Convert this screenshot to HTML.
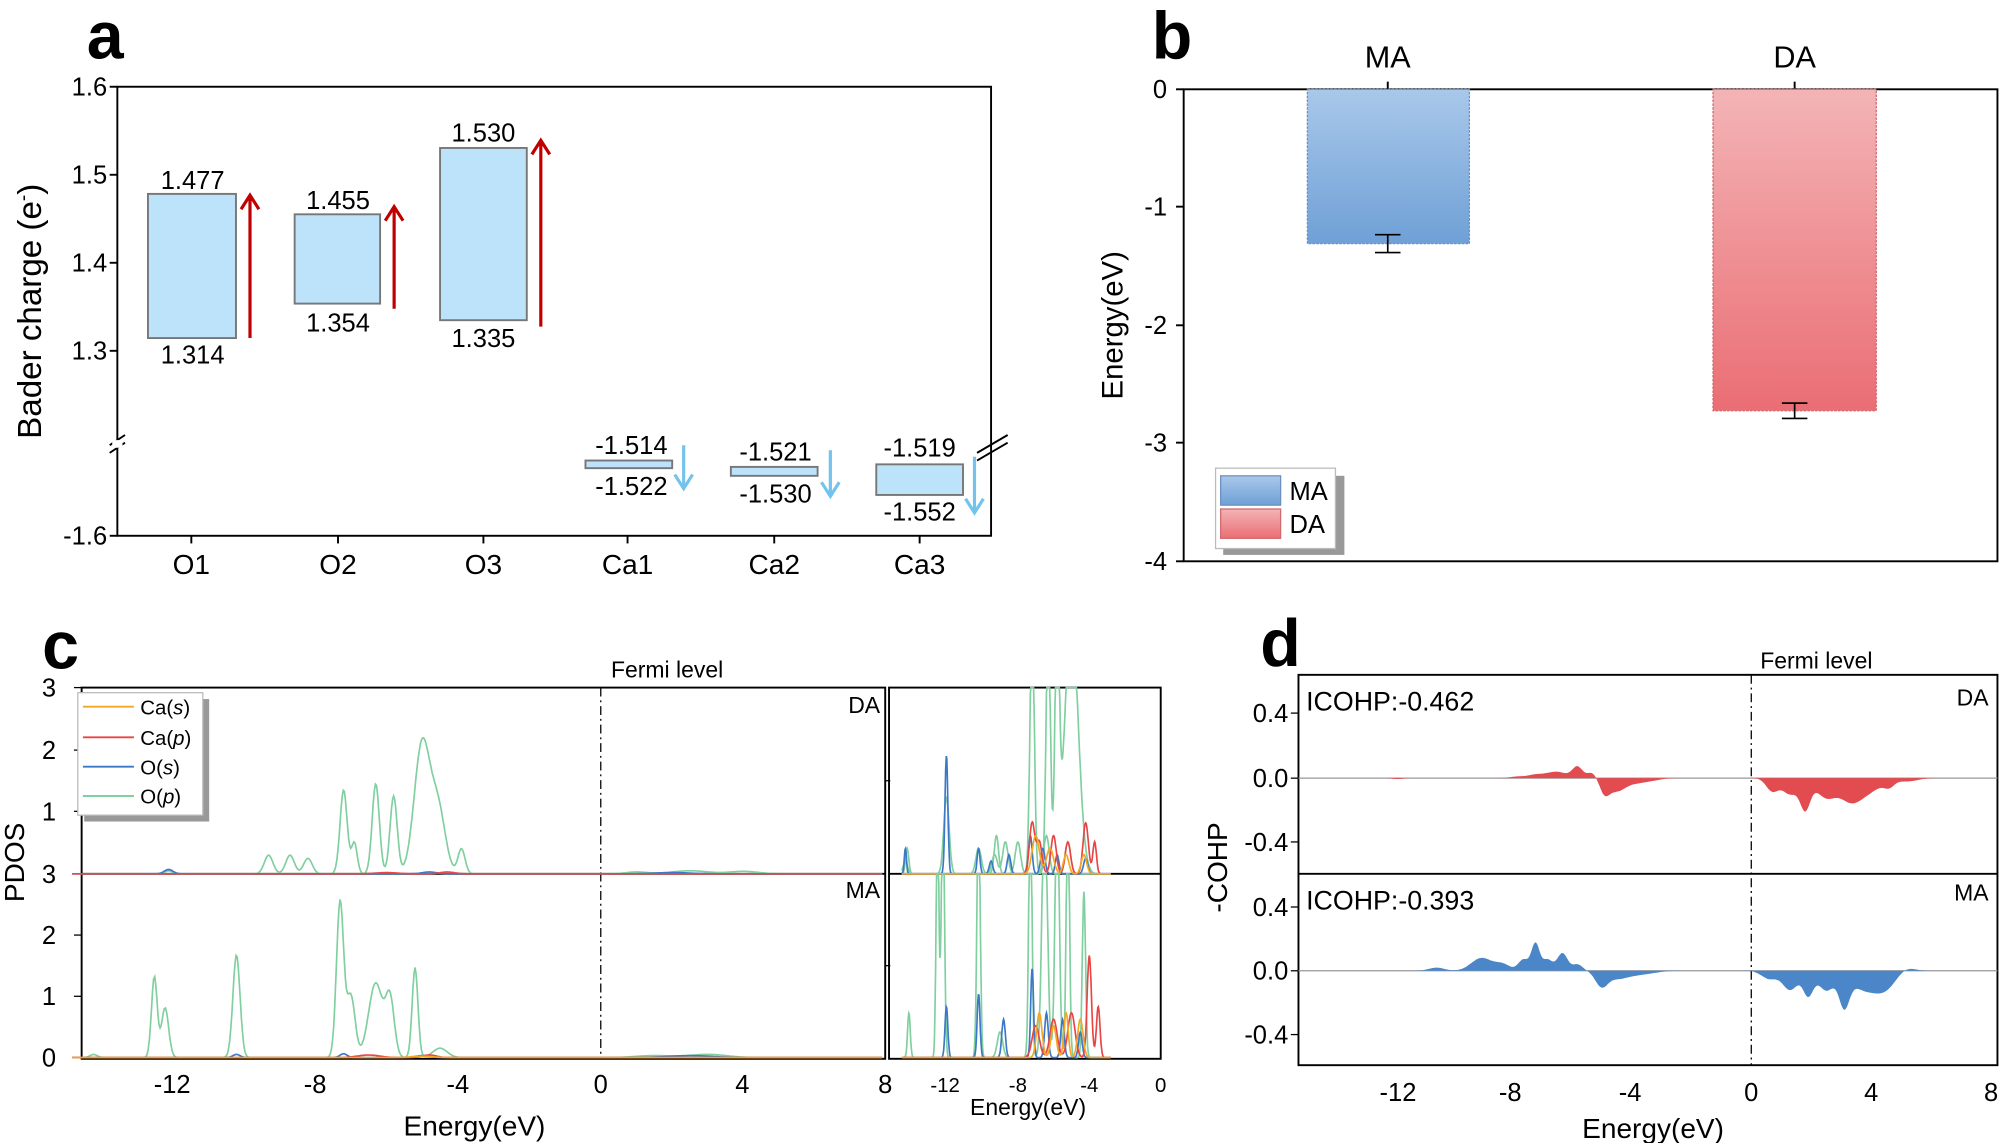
<!DOCTYPE html>
<html><head><meta charset="utf-8"><style>
html,body{margin:0;padding:0;background:#fff}
svg{display:block;font-family:"Liberation Sans",Arial,sans-serif}
</style></head><body>
<svg id="s" width="2000" height="1143" viewBox="0 0 1568 896" preserveAspectRatio="none" xmlns="http://www.w3.org/2000/svg">
<defs>
<linearGradient id="gb" x1="0" y1="0" x2="0" y2="1"><stop offset="0" stop-color="#a9c8ea"/><stop offset="1" stop-color="#6fa0d6"/></linearGradient>
<linearGradient id="gr" x1="0" y1="0" x2="0" y2="1"><stop offset="0" stop-color="#f3b4b6"/><stop offset="1" stop-color="#ea6e74"/></linearGradient>
</defs>
<g font-weight="bold" font-size="52">
<text x="68" y="46">a</text><text x="903" y="46">b</text><text x="33" y="524">c</text><text x="988" y="522">d</text>
</g>
<!-- Panel a -->
<rect x="92" y="68" width="685" height="352" fill="none" stroke="#000" stroke-width="1.5"/>
<g stroke="#000" stroke-width="1.5"><line x1="86" y1="68" x2="92" y2="68"/><line x1="86" y1="137" x2="92" y2="137"/><line x1="86" y1="206" x2="92" y2="206"/><line x1="86" y1="275" x2="92" y2="275"/><line x1="86" y1="420" x2="92" y2="420"/>
<line x1="150" y1="420" x2="150" y2="426"/><line x1="265" y1="420" x2="265" y2="426"/><line x1="379" y1="420" x2="379" y2="426"/><line x1="492" y1="420" x2="492" y2="426"/><line x1="607" y1="420" x2="607" y2="426"/><line x1="721" y1="420" x2="721" y2="426"/>
<line x1="86" y1="349" x2="98" y2="341"/><line x1="86" y1="355" x2="98" y2="347"/><line x1="766" y1="355" x2="790" y2="341"/><line x1="766" y1="361" x2="790" y2="347"/></g>
<rect x="88" y="345" width="8" height="6" fill="#fff"/>
<g font-size="20" text-anchor="end"><text x="84" y="75">1.6</text><text x="84" y="144">1.5</text><text x="84" y="213">1.4</text><text x="84" y="282">1.3</text><text x="84" y="427">-1.6</text></g>
<g font-size="22" text-anchor="middle"><text x="150" y="450">O1</text><text x="265" y="450">O2</text><text x="379" y="450">O3</text><text x="492" y="450">Ca1</text><text x="607" y="450">Ca2</text><text x="721" y="450">Ca3</text></g>
<text transform="translate(32,244) rotate(-90)" font-size="26" text-anchor="middle">Bader charge (e<tspan font-size="15" dy="-9">-</tspan><tspan dy="9">)</tspan></text>
<g fill="#bde3fb" stroke="#777" stroke-width="1.5">
<rect x="116" y="152" width="69" height="113"/><rect x="231" y="168" width="67" height="70"/><rect x="345" y="116" width="68" height="135"/>
<rect x="459" y="361" width="68" height="6"/><rect x="573" y="366" width="68" height="7"/><rect x="687" y="364" width="68" height="24"/></g>
<g font-size="20" text-anchor="middle"><text x="151" y="148">1.477</text><text x="151" y="285">1.314</text><text x="265" y="164">1.455</text><text x="265" y="260">1.354</text><text x="379" y="111">1.530</text><text x="379" y="272">1.335</text>
<text x="495" y="356">-1.514</text><text x="495" y="388">-1.522</text><text x="608" y="361">-1.521</text><text x="608" y="394">-1.530</text><text x="721" y="358">-1.519</text><text x="721" y="408">-1.552</text></g>
<g stroke="#c00000" stroke-width="2.5" fill="none"><path d="M196 265V155M189 164L196 153L203 164"/><path d="M309 242V164M302 173L309 162L316 173"/><path d="M424 256V112M417 121L424 110L431 121"/></g>
<g stroke="#74c3ec" stroke-width="2.5" fill="none"><path d="M536 349V381M529 372L536 383L543 372"/><path d="M651 353V387M644 378L651 389L658 378"/><path d="M764 358V400M757 391L764 402L771 391"/></g>
<!-- Panel b -->
<rect x="928" y="70" width="638" height="370" fill="none" stroke="#000" stroke-width="1.5"/>
<g stroke="#000" stroke-width="1.5"><line x1="922" y1="70" x2="928" y2="70"/><line x1="922" y1="162" x2="928" y2="162"/><line x1="922" y1="255" x2="928" y2="255"/><line x1="922" y1="347" x2="928" y2="347"/><line x1="922" y1="440" x2="928" y2="440"/><line x1="1088" y1="64" x2="1088" y2="70"/><line x1="1407" y1="64" x2="1407" y2="70"/></g>
<g font-size="20" text-anchor="end"><text x="915" y="77">0</text><text x="915" y="169">-1</text><text x="915" y="262">-2</text><text x="915" y="354">-3</text><text x="915" y="447">-4</text></g>
<g font-size="24" text-anchor="middle"><text x="1088" y="53">MA</text><text x="1407" y="53">DA</text></g>
<text transform="translate(880,255) rotate(-90)" font-size="23" text-anchor="middle">Energy(eV)</text>
<rect x="1025" y="70" width="127" height="121" fill="url(#gb)" stroke="#6a8fc0" stroke-dasharray="2,1"/>
<rect x="1343" y="70" width="128" height="252" fill="url(#gr)" stroke="#d06a70" stroke-dasharray="2,1"/>
<g stroke="#000" stroke-width="1.3"><path d="M1088 184V198M1078 184H1098M1078 198H1098"/><path d="M1407 316V328M1397 316H1417M1397 328H1417"/></g>
<rect x="959" y="373" width="95" height="62" fill="#999"/>
<rect x="953" y="367" width="94" height="63" fill="#fff" stroke="#bbb"/>
<rect x="957" y="373" width="47" height="23" fill="url(#gb)" stroke="#6a8fc0"/><rect x="957" y="399" width="47" height="23" fill="url(#gr)" stroke="#d06a70"/>
<g font-size="20"><text x="1011" y="392">MA</text><text x="1011" y="418">DA</text></g>
<!-- Panel c -->
<g stroke="#000" stroke-width="1.5" fill="none"><rect x="64" y="539" width="630" height="291"/><line x1="64" y1="685" x2="694" y2="685"/><rect x="697" y="539" width="213" height="291"/><line x1="697" y1="685" x2="910" y2="685"/></g>
<line x1="471" y1="539" x2="471" y2="830" stroke="#000" stroke-dasharray="7,3,1.5,3"/>
<g font-size="20" text-anchor="end"><text x="44" y="546">3</text><text x="44" y="595">2</text><text x="44" y="643">1</text><text x="44" y="692">3</text><text x="44" y="740">2</text><text x="44" y="788">1</text><text x="44" y="836">0</text></g>
<g stroke="#000"><line x1="58" y1="539" x2="64" y2="539"/><line x1="58" y1="588" x2="64" y2="588"/><line x1="58" y1="636" x2="64" y2="636"/><line x1="58" y1="685" x2="64" y2="685"/><line x1="58" y1="733" x2="64" y2="733"/><line x1="58" y1="781" x2="64" y2="781"/><line x1="58" y1="829" x2="64" y2="829"/><line x1="694" y1="612" x2="698" y2="612"/><line x1="694" y1="757" x2="698" y2="757"/></g>
<g font-size="20" text-anchor="middle"><text x="135" y="857">-12</text><text x="247" y="857">-8</text><text x="359" y="857">-4</text><text x="471" y="857">0</text><text x="582" y="857">4</text><text x="694" y="857">8</text><text x="372" y="890" font-size="22">Energy(eV)</text>
<text x="741" y="856" font-size="16">-12</text><text x="798" y="856" font-size="16">-8</text><text x="854" y="856" font-size="16">-4</text><text x="910" y="856" font-size="16">0</text><text x="806" y="874" font-size="18">Energy(eV)</text><text x="523" y="531" font-size="18">Fermi level</text></g>
<text transform="translate(19,676) rotate(-90)" font-size="22" text-anchor="middle">PDOS</text>
<g font-size="18" text-anchor="end"><text x="690" y="559">DA</text><text x="690" y="704">MA</text></g>
<rect x="66" y="548" width="98" height="96" fill="#999"/><rect x="61" y="543" width="98" height="96" fill="#fff" stroke="#bbb"/>
<g stroke-width="1.5"><line x1="65" y1="554" x2="105" y2="554" stroke="#f5a623"/><line x1="65" y1="578" x2="105" y2="578" stroke="#e94545"/><line x1="65" y1="601" x2="105" y2="601" stroke="#3c78c8"/><line x1="65" y1="624" x2="105" y2="624" stroke="#7fcf9f"/></g>
<g font-size="16"><text x="110" y="560">Ca(<tspan font-style="italic">s</tspan>)</text><text x="110" y="584">Ca(<tspan font-style="italic">p</tspan>)</text><text x="110" y="607">O(<tspan font-style="italic">s</tspan>)</text><text x="110" y="630">O(<tspan font-style="italic">p</tspan>)</text></g>
<g id="cc"></g>
<!-- Panel d -->
<g stroke="#000" stroke-width="1.5" fill="none"><rect x="1018" y="529" width="548" height="306"/><line x1="1018" y1="685" x2="1566" y2="685"/></g>
<g stroke="#999" stroke-width="1"><line x1="1018" y1="610" x2="1566" y2="610"/><line x1="1018" y1="761" x2="1566" y2="761"/></g>
<line x1="1373" y1="529" x2="1373" y2="835" stroke="#000" stroke-dasharray="7,3,1.5,3"/>
<g stroke="#000"><line x1="1012" y1="559" x2="1018" y2="559"/><line x1="1012" y1="610" x2="1018" y2="610"/><line x1="1012" y1="660" x2="1018" y2="660"/><line x1="1012" y1="711" x2="1018" y2="711"/><line x1="1012" y1="761" x2="1018" y2="761"/><line x1="1012" y1="811" x2="1018" y2="811"/></g>
<g font-size="20" text-anchor="end"><text x="1010" y="566">0.4</text><text x="1010" y="617">0.0</text><text x="1010" y="667">-0.4</text><text x="1010" y="718">0.4</text><text x="1010" y="768">0.0</text><text x="1010" y="818">-0.4</text></g>
<g font-size="20" text-anchor="middle"><text x="1096" y="863">-12</text><text x="1184" y="863">-8</text><text x="1278" y="863">-4</text><text x="1373" y="863">0</text><text x="1467" y="863">4</text><text x="1561" y="863">8</text><text x="1296" y="892" font-size="22">Energy(eV)</text><text x="1424" y="524" font-size="18">Fermi level</text></g>
<text transform="translate(962,680) rotate(-90)" font-size="22" text-anchor="middle">-COHP</text>
<g font-size="21"><text x="1024" y="557">ICOHP:-0.462</text><text x="1024" y="713">ICOHP:-0.393</text></g>
<g font-size="18" text-anchor="end"><text x="1559" y="553">DA</text><text x="1559" y="706">MA</text></g>
<g id="dd"></g>
</svg>
<script>
var NS="http://www.w3.org/2000/svg";
function G(x,pk,w){w=w||1;var s=0;for(var i=0;i<pk.length;i++){var d=(x-pk[i][0])/(pk[i][2]*w);s+=pk[i][1]*Math.exp(-d*d/2);}return s;}
function line(par,pts,col,fill){var p=document.createElementNS(NS,"path");p.setAttribute("d","M"+pts.map(function(q){return q[0].toFixed(1)+" "+q[1].toFixed(1)}).join("L")+(fill?"Z":""));p.setAttribute("stroke",fill?"none":col);p.setAttribute("fill",fill?col:"none");p.setAttribute("stroke-width","1.3");par.appendChild(p);}
var cc=document.getElementById("cc");
function pdos(pk,base,sc,col,xmin,xmax,clipTop,px0,ppu,w){var pts=[];for(var e=xmin;e<=xmax;e+=0.03){var y=base-sc*G(e,pk,w);if(y<clipTop)y=clipTop;pts.push([px0+e*ppu,y]);}line(cc,pts,col);}
var Dp=[[-9.3,.3,.12],[-8.7,.3,.12],[-8.2,.25,.12],[-7.2,1.35,.1],[-6.9,.5,.08],[-6.3,1.45,.1],[-5.8,1.25,.1],[-5.0,2.1,.22],[-4.55,1.0,.2],[-3.9,.4,.1],[-12.1,.05,.1],[1,.03,.3],[2.5,.05,.5],[4,.04,.4]];
var Mp=[[-12.5,1.3,.08],[-12.2,.8,.1],[-10.2,1.65,.1],[-7.3,2.5,.1],[-7,1.0,.12],[-6.3,1.2,.2],[-5.9,.9,.12],[-5.2,1.45,.08],[-4.5,.15,.2],[-14.2,.05,.1],[1.5,.03,.5],[3,.05,.5]];
pdos(Dp,685,48.7,"#7fcf9f",-14.8,7.9,539,471,28);
pdos(Mp,829,48.7,"#7fcf9f",-14.8,7.9,685,471,28);
pdos([[-12.1,.07,.12],[-4.8,.03,.2],[2,.02,.5]],685,48.7,"#3c78c8",-14.8,7.9,539,471,28);
pdos([[-4.3,.03,.2],[-6,.02,.3]],685,48.7,"#e94545",-14.8,7.9,539,471,28);
pdos([[-10.2,.05,.1],[-7.2,.06,.1],[-5,.03,.2],[2.5,.03,.6]],829,48.7,"#3c78c8",-14.8,7.9,685,471,28);
pdos([[-6.5,.04,.3],[-4.8,.04,.2]],829,48.7,"#e94545",-14.8,7.9,685,471,28);
pdos([[-5,.02,.3]],829,48.7,"#f5a623",-14.8,7.9,685,471,28);
function ins(pk,base,col,top,w){pdos(pk,base,1,col,-14.5,-2.8,top,910,14,w||1);}
ins([[-14.2,20,.06],[-12,60,.1],[-10.2,20,.1],[-9.2,30,.08],[-8,25,.1],[-6.4,30,.1],[-5.2,25,.1]],685,"#7fcf9f",539,1.5);
ins([[-7.2,200,.08],[-6.3,200,.08],[-5.8,200,.08],[-5.0,200,.25],[-9.3,15,.1],[-8.7,25,.1],[-14.3,10,.08]],685,"#7fcf9f",539,1.5);
ins([[-14.3,20,.06],[-12,93,.08],[-10.2,20,.08],[-9.5,10,.1],[-8.5,15,.1],[-7.3,30,.1],[-6.6,20,.12],[-5.8,15,.1],[-4.2,12,.12]],685,"#3c78c8",539);
ins([[-7.2,40,.15],[-6.8,25,.15],[-6.0,30,.15],[-5.2,25,.15],[-4.2,40,.15],[-3.7,25,.1]],685,"#e94545",539);
ins([[-7.0,30,.2],[-6.2,20,.2],[-5.3,15,.15],[-4.3,15,.15]],685,"#f5a623",539);
ins([[-14.1,35,.05],[-12.5,200,.05],[-12.2,200,.06],[-10.2,200,.06],[-7.3,200,.06],[-6.5,200,.1],[-5.8,200,.08],[-5.2,200,.06],[-4.3,130,.06],[-9,20,.1]],829,"#7fcf9f",685,1.5);
ins([[-12,40,.08],[-10.2,50,.08],[-8.8,30,.1],[-7.2,70,.08],[-6.4,35,.1],[-5.5,30,.1],[-4.5,20,.1]],829,"#3c78c8",685);
ins([[-7,25,.2],[-6,30,.2],[-5,35,.2],[-4,80,.12],[-3.5,40,.1]],829,"#e94545",685);
ins([[-6.8,35,.15],[-6,25,.15],[-5.3,35,.12],[-4.5,30,.15]],829,"#f5a623",685);
var dd=document.getElementById("dd");
function cohp(pk,base,col){var pts=[[1373+(-15)*23.5,base]];for(var e=-15;e<=7;e+=0.03){pts.push([1373+e*23.5,base-125*G(e,pk,1.7)]);}pts.push([1373+7*23.5,base]);line(dd,pts,col,true);}
cohp([[-11.8,-.006,.1],[-7.8,.01,.15],[-7.2,.02,.15],[-6.5,.04,.2],[-5.8,.07,.1],[-5.3,.035,.1],[-4.9,-.09,.1],[-4.5,-.07,.15],[-4.0,-.03,.2],[-3.4,-.015,.2],[.7,-.08,.12],[1.3,-.1,.15],[1.8,-.18,.1],[2.5,-.12,.2],[3.3,-.12,.2],[3.9,-.08,.25],[4.6,-.04,.1],[5.2,-.02,.2]],610,"#e24b50");
cohp([[-10.5,.02,.15],[-9,.08,.2],[-8.3,.04,.15],[-7.6,.07,.1],[-7.2,.17,.08],[-6.8,.07,.1],[-6.3,.11,.1],[-5.8,.04,.1],[-5.0,-.09,.12],[-4.5,-.04,.2],[-3.8,-.025,.3],[.6,-.05,.15],[1.3,-.12,.15],[1.9,-.15,.1],[2.5,-.12,.15],[3.1,-.19,.1],[3.8,-.12,.3],[4.5,-.08,.2],[5.2,.02,.15]],761,"#4a86c8");
</script>
</body></html>
